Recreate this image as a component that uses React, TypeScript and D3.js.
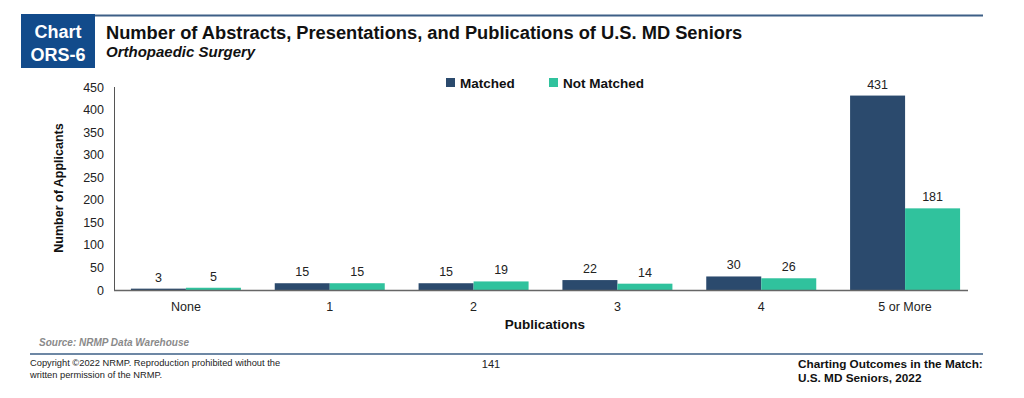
import React, { useEffect, useRef } from "react";
import * as d3 from "d3";

const categories = ["None", "1", "2", "3", "4", "5 or More"];
const matched = [3, 15, 15, 22, 30, 431];
const notMatched = [5, 15, 19, 14, 26, 181];
const yTicks = [0, 50, 100, 150, 200, 250, 300, 350, 400, 450];
const seriesNames = ["Matched", "Not Matched"];
const seriesColors = ["#2b4a6d", "#30c29d"];

const FONT = "'Liberation Sans', Arial, sans-serif";

const App = () => {
  const ref = useRef<SVGSVGElement>(null);

  useEffect(() => {
    const svg = d3.select(ref.current);
    svg.selectAll("*").remove();

    const width = 1024;
    const height = 398;
    svg.attr("width", width).attr("height", height).style("font-family", FONT);

    svg.append("rect").attr("width", width).attr("height", height).attr("fill", "#fff");

    // header box
    svg.append("rect")
      .attr("x", 21).attr("y", 14).attr("width", 74).attr("height", 54)
      .attr("fill", "#124b8b");
    svg.append("text").attr("x", 58).attr("y", 38).attr("text-anchor", "middle")
      .attr("fill", "#fff").attr("font-size", 18).attr("font-weight", "bold").text("Chart");
    svg.append("text").attr("x", 58).attr("y", 61).attr("text-anchor", "middle")
      .attr("fill", "#fff").attr("font-size", 18).attr("font-weight", "bold").text("ORS-6");
    svg.append("line")
      .attr("x1", 95).attr("x2", 983).attr("y1", 15.5).attr("y2", 15.5)
      .attr("stroke", "#3d5f86").attr("stroke-width", 2);

    svg.append("text").attr("x", 106).attr("y", 39)
      .attr("font-size", 18.3).attr("font-weight", "bold").attr("fill", "#111")
      .text("Number of Abstracts, Presentations, and Publications of U.S. MD Seniors");
    svg.append("text").attr("x", 106).attr("y", 57)
      .attr("font-size", 15).attr("font-weight", "bold").attr("font-style", "italic").attr("fill", "#111")
      .text("Orthopaedic Surgery");

    // scales
    const x = d3.scaleBand().domain(categories).range([114, 977]).padding(0);
    const y = d3.scaleLinear().domain([0, 450]).range([290, 87]);
    const barW = 55;

    const g = svg.append("g");

    // y axis
    g.append("line").attr("x1", 114.5).attr("x2", 114.5).attr("y1", y(450)).attr("y2", y(0))
      .attr("stroke", "#555").attr("stroke-width", 1);
    g.selectAll("text.ytick").data(yTicks).enter().append("text")
      .attr("x", 104).attr("y", d => y(d) + 4.5)
      .attr("text-anchor", "end").attr("font-size", 12.5).attr("fill", "#222")
      .text(d => d);

    // bars
    const series = [matched, notMatched];
    series.forEach((vals, si) => {
      g.selectAll(`rect.s${si}`).data(categories).enter().append("rect")
        .attr("x", (c) => x(c)! + x.bandwidth() / 2 + (si === 0 ? -barW : 0))
        .attr("y", (c, i) => y(vals[i]))
        .attr("width", barW)
        .attr("height", (c, i) => y(0) - y(vals[i]))
        .attr("fill", seriesColors[si]);
      g.selectAll(`text.v${si}`).data(categories).enter().append("text")
        .attr("x", (c) => x(c)! + x.bandwidth() / 2 + (si === 0 ? -barW / 2 : barW / 2))
        .attr("y", (c, i) => y(vals[i]) - 7)
        .attr("text-anchor", "middle").attr("font-size", 12.5).attr("fill", "#222")
        .text((c, i) => vals[i]);
    });

    // x axis
    g.append("line").attr("x1", 114).attr("x2", 968).attr("y1", y(0) + 0.5).attr("y2", y(0) + 0.5)
      .attr("stroke", "#666").attr("stroke-width", 1.5);
    g.selectAll("text.xtick").data(categories).enter().append("text")
      .attr("x", c => x(c)! + x.bandwidth() / 2).attr("y", 311)
      .attr("text-anchor", "middle").attr("font-size", 12.5).attr("fill", "#222")
      .text(c => c);

    svg.append("text").attr("x", 545).attr("y", 329).attr("text-anchor", "middle")
      .attr("font-size", 13.5).attr("font-weight", "bold").attr("fill", "#111").text("Publications");
    svg.append("text").attr("transform", "translate(63,188) rotate(-90)").attr("text-anchor", "middle")
      .attr("font-size", 12.5).attr("font-weight", "bold").attr("fill", "#111").text("Number of Applicants");

    // legend
    const legendX = [446, 549];
    seriesNames.forEach((n, i) => {
      svg.append("rect").attr("x", legendX[i]).attr("y", 78).attr("width", 9).attr("height", 9)
        .attr("fill", seriesColors[i]);
      svg.append("text").attr("x", legendX[i] + 14).attr("y", 87.5)
        .attr("font-size", 13.5).attr("font-weight", "bold").attr("fill", "#111").text(n);
    });

    // footer
    svg.append("text").attr("x", 39).attr("y", 346)
      .attr("font-size", 10).attr("font-weight", "bold").attr("font-style", "italic").attr("fill", "#8a8a8a")
      .text("Source: NRMP Data Warehouse");
    svg.append("line").attr("x1", 30).attr("x2", 983).attr("y1", 354).attr("y2", 354)
      .attr("stroke", "#3d5f86").attr("stroke-width", 1.5);
    svg.append("text").attr("x", 30).attr("y", 366).attr("font-size", 9.3).attr("fill", "#222")
      .text("Copyright ©2022 NRMP. Reproduction prohibited without the");
    svg.append("text").attr("x", 30).attr("y", 378).attr("font-size", 9.3).attr("fill", "#222")
      .text("written permission of the NRMP.");
    svg.append("text").attr("x", 491).attr("y", 368).attr("text-anchor", "middle")
      .attr("font-size", 11).attr("fill", "#222").text("141");
    svg.append("text").attr("x", 798).attr("y", 368)
      .attr("font-size", 11.75).attr("font-weight", "bold").attr("fill", "#111")
      .text("Charting Outcomes in the Match:");
    svg.append("text").attr("x", 798).attr("y", 382)
      .attr("font-size", 11.75).attr("font-weight", "bold").attr("fill", "#111")
      .text("U.S. MD Seniors, 2022");
  }, []);

  return <svg ref={ref} style={{ position: "absolute", left: 0, top: 0 }}></svg>;
};

export default App;
